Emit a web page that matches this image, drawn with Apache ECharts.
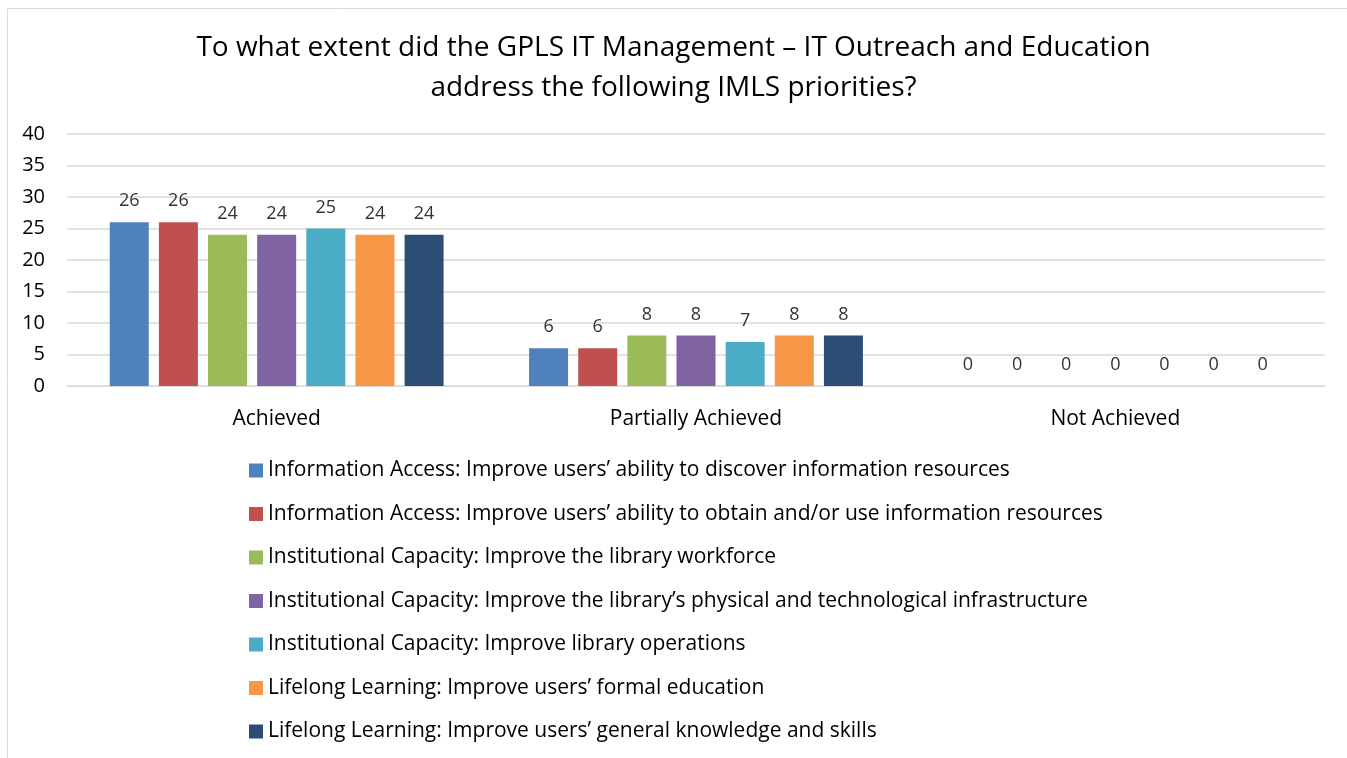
<!DOCTYPE html>
<html>
<head>
<meta charset="utf-8">
<title>IMLS priorities</title>
<script src="https://cdn.jsdelivr.net/npm/echarts@6/dist/echarts.min.js"></script>
<style>
    html, body {margin: 0; padding: 0; background: #fff;}
    #chart {width: 1347px; height: 758px;}
</style>
</head>
<body>
<div id="chart"></div>
<script>
// categories on the x axis
var categories = ['Achieved', 'Partially Achieved', 'Not Achieved'];

// one series per IMLS priority
var seriesNames = [
    'Information Access: Improve users\u2019 ability to discover information resources',
    'Information Access: Improve users\u2019 ability to obtain and/or use information resources',
    'Institutional Capacity: Improve the library workforce',
    'Institutional Capacity: Improve the library\u2019s physical and technological infrastructure',
    'Institutional Capacity: Improve library operations',
    'Lifelong Learning: Improve users\u2019 formal education',
    'Lifelong Learning: Improve users\u2019 general knowledge and skills'
];

var discoverValues = [26, 6, 0];
var obtainValues = [26, 6, 0];
var workforceValues = [24, 8, 0];
var infrastructureValues = [24, 8, 0];
var operationsValues = [25, 7, 0];
var formalEduValues = [24, 8, 0];
var generalSkillsValues = [24, 8, 0];

var seriesValues = [
    discoverValues, obtainValues, workforceValues, infrastructureValues,
    operationsValues, formalEduValues, generalSkillsValues
];

var colors = ['#4f81bd', '#c0504d', '#9bbb59', '#8064a2', '#4bacc6', '#f79646', '#2c4d75'];

var font = '"Open Sans", "Noto Sans", sans-serif';
var chart = echarts.init(document.getElementById('chart'));

var series = seriesNames.map(function (name, i) {
    return {
        name: name,
        type: 'bar',
        data: seriesValues[i],
        barWidth: 39,
        barGap: '26%',
        itemStyle: {color: colors[i]},
        label: {
            show: true,
            position: 'top',
            distance: 12,
            color: '#333',
            fontSize: 18,
            fontFamily: font
        }
    };
});

var option = {
    animation: false,
    color: colors,
    title: {
        text: 'To what extent did the GPLS IT Management \u2013 IT Outreach and Education\naddress the following IMLS priorities?',
        left: 'center',
        top: 23,
        textStyle: {
            fontFamily: font,
            fontSize: 28,
            fontWeight: 'normal',
            color: '#000',
            lineHeight: 40
        }
    },
    legend: {
        orient: 'vertical',
        left: 244,
        top: 455,
        itemWidth: 14,
        itemHeight: 14,
        itemGap: 22.5,
        icon: 'rect',
        textStyle: {
            fontFamily: font,
            fontSize: 21,
            color: '#000',
            lineHeight: 20
        },
        data: seriesNames
    },
    grid: {
        left: 67,
        right: 22,
        top: 134,
        height: 252,
        containLabel: false
    },
    xAxis: {
        type: 'category',
        data: categories,
        axisLine: {lineStyle: {color: '#d9d9d9'}},
        axisTick: {show: false},
        axisLabel: {
            color: '#000',
            fontSize: 21,
            fontFamily: font,
            margin: 23
        }
    },
    yAxis: {
        type: 'value',
        min: 0,
        max: 40,
        interval: 5,
        axisLine: {show: false},
        axisTick: {show: false},
        splitLine: {lineStyle: {color: '#d9d9d9', width: 1.5}},
        axisLabel: {
            color: '#000',
            fontSize: 20,
            fontFamily: font,
            margin: 22
        }
    },
    graphic: [{
        type: 'rect',
        shape: {x: 7.5, y: 8.5, width: 1345, height: 755},
        style: {fill: 'none', stroke: '#d9d9d9', lineWidth: 1},
        silent: true
    }],
    series: series
};

chart.setOption(option);
</script>
</body>
</html>
